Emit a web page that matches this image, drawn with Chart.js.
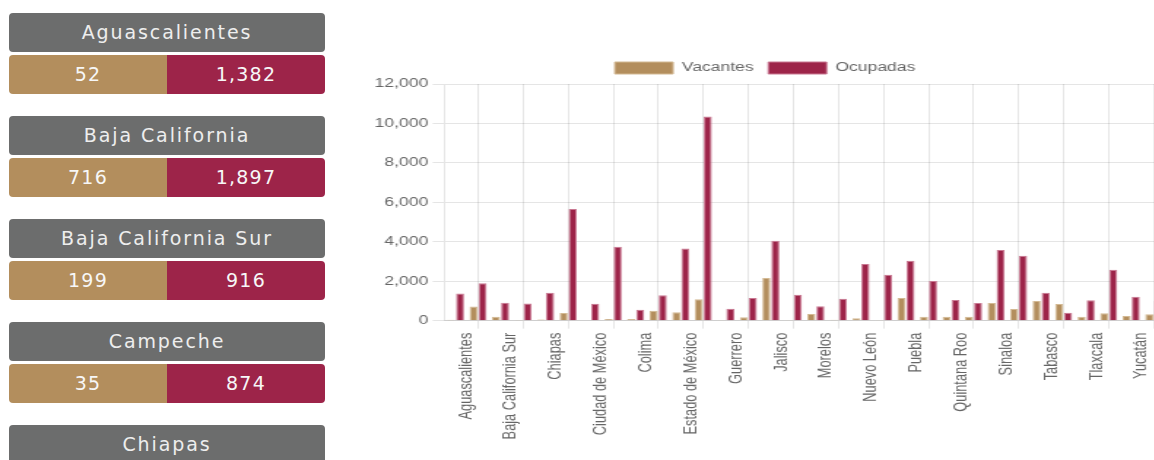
<!DOCTYPE html>
<html><head><meta charset="utf-8">
<script src="https://cdn.jsdelivr.net/npm/chart.js@4.4.0/dist/chart.umd.min.js"></script>
<style>
html,body{margin:0;padding:0;width:1154px;height:460px;overflow:hidden;background:#fff;}
#cards{position:absolute;left:9px;top:13px;width:316px;font-family:'DejaVu Sans',sans-serif;}
.card{margin-bottom:22px}
.hd{height:39px;line-height:39px;background:#6c6d6d;color:#eeeeee;text-align:center;border-radius:4px;font-size:19px;letter-spacing:1.9px}
.vals{display:flex;height:39px;margin-top:3px}
.vals div{flex:1;line-height:39px;text-align:center;color:#f7f7f7;font-size:19px;letter-spacing:1.2px}
.vac{background:#b38e5d;border-radius:4px 0 0 4px}
.ocu{background:#9d2449;border-radius:0 4px 4px 0}
#chartWrap{position:absolute;left:365px;top:0;}
canvas{display:block}
</style></head><body>
<div id="cards"></div>
<div id="chartWrap"><canvas id="c" width="548" height="460" style="width:800px;height:460px"></canvas></div>
<script>
const categories = ['Aguascalientes','Baja California','Baja California Sur','Campeche','Chiapas','Chihuahua','Ciudad de México','Coahuila','Colima','Durango','Estado de México','Guanajuato','Guerrero','Hidalgo','Jalisco','Michoacán','Morelos','Nayarit','Nuevo León','Oaxaca','Puebla','Querétaro','Quintana Roo','San Luis Potosí','Sinaloa','Sonora','Tabasco','Tamaulipas','Tlaxcala','Veracruz','Yucatán','Zacatecas'];
const vacantes = [52,716,199,35,60,392,20,90,80,510,426,1085,15,172,2166,30,341,50,120,15,1152,206,206,206,899,595,1000,848,206,375,240,324];
const ocupadas = [1382,1897,916,874,1423,5665,865,3755,560,1288,3654,10350,610,1152,4059,1321,730,1119,2876,2335,3045,2014,1051,899,3586,3299,1423,409,1034,2589,1220,1000];
const seriesNames = ['Vacantes','Ocupadas'];
const yMax = 12000;
const yStep = 2000;

const fmt = n => n.toLocaleString('en-US');
const cardsEl = document.getElementById('cards');
categories.forEach((name, i) => {
  const card = document.createElement('div');
  card.className = 'card';
  card.innerHTML = '<div class="hd">' + name + '</div><div class="vals"><div class="vac">' + fmt(vacantes[i]) + '</div><div class="ocu">' + fmt(ocupadas[i]) + '</div></div>';
  cardsEl.appendChild(card);
});

Chart.defaults.font.family = "'Liberation Sans', Arial, sans-serif";
Chart.defaults.font.size = 12;
Chart.defaults.color = '#666';

new Chart(document.getElementById('c'), {
  type: 'bar',
  data: {
    labels: categories,
    datasets: [
      {label: seriesNames[0], data: vacantes, backgroundColor: '#b38e5d', borderColor: '#d3b993', borderWidth: 1},
      {label: seriesNames[1], data: ocupadas, backgroundColor: '#9d2449', borderColor: '#c97892', borderWidth: 1}
    ]
  },
  options: {
    responsive: false,
    animation: false,
    devicePixelRatio: 1,
    locale: 'en-US',
    layout: {padding: {top: 52, left: 0, right: 0, bottom: 19.3}},
    plugins: {
      legend: {position: 'top', labels: {boxWidth: 40, color: '#666'}},
      tooltip: {enabled: false}
    },
    scales: {
      x: {
        grid: {
          offset: false,
          tickLength: 8,
          color: ctx => (ctx.index % 2 === 1 ? 'rgba(0,0,0,0.1)' : 'rgba(0,0,0,0)')
        },
        border: {color: 'rgba(0,0,0,0.1)'},
        ticks: {
          autoSkip: false, minRotation: 90, maxRotation: 90, labelOffset: 7, padding: 4, color: '#666',
          font: {size: 12.8},
          callback: (v, i) => (i % 2 === 0 ? categories[i] : '')
        },
        afterFit: s => { s.height = 120; s.paddingRight = 0; s.paddingLeft = 0; }
      },
      y: {
        min: 0, max: yMax,
        ticks: {stepSize: yStep, color: '#666'},
        grid: {color: 'rgba(0,0,0,0.1)', tickLength: 8},
        border: {color: 'rgba(0,0,0,0.1)'},
        afterFit: s => { s.width = 54.3; }
      }
    }
  }
});
</script>
</body></html>
